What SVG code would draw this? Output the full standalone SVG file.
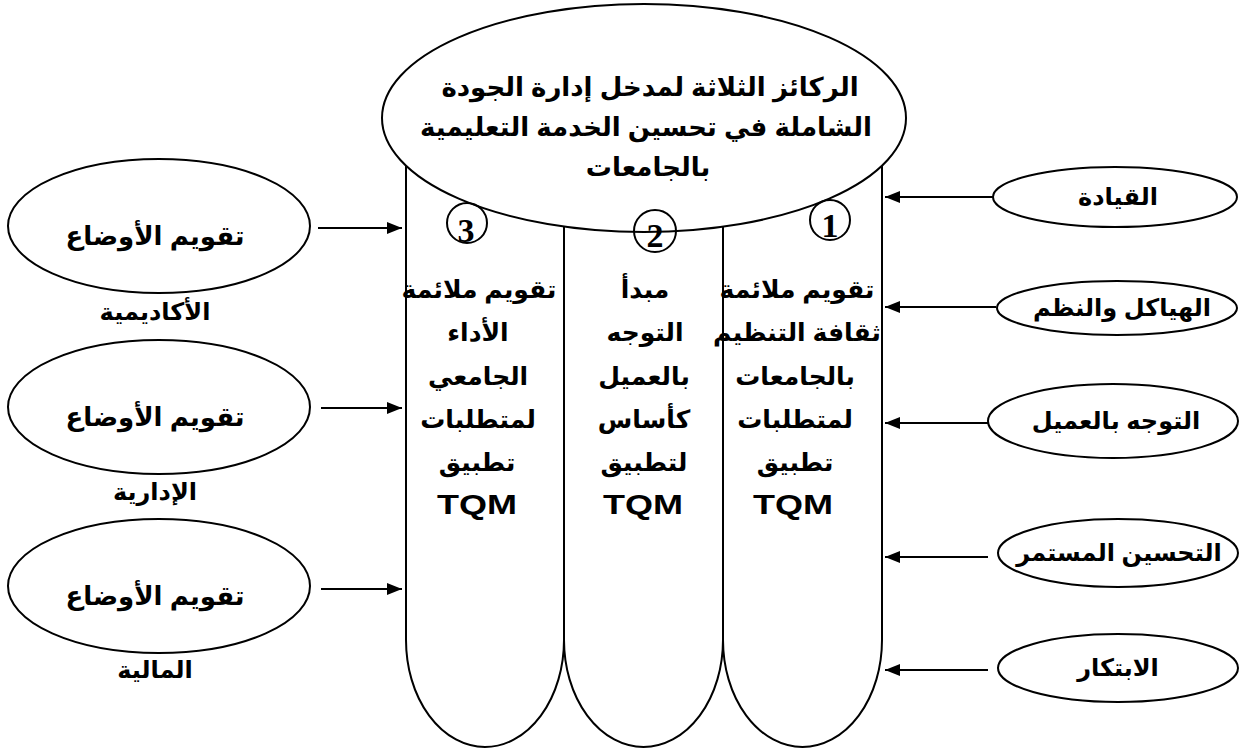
<svg xmlns="http://www.w3.org/2000/svg" width="1240" height="749" viewBox="0 0 1240 749">
<defs>
<style>
.sh{fill:#fff;stroke:#000;stroke-width:2}
.ln{fill:none;stroke:#000;stroke-width:2}
.t{font-family:"Liberation Sans","DejaVu Sans",sans-serif;font-weight:bold;fill:#000;text-anchor:middle}
.big{font-size:26px}
.mid{font-size:25px}
.lab{font-size:24px}
.rt{font-size:24px}
.tqm{font-size:28px}
.num{font-family:"Liberation Serif",serif;font-weight:bold;font-size:34px;text-anchor:middle}
</style>
<marker id="ah" markerWidth="15" markerHeight="13" refX="15" refY="6.5" orient="auto" markerUnits="userSpaceOnUse">
<path d="M0,0.5 L15,6.5 L0,12.5 Z" fill="#000"/>
</marker>
</defs>
<rect width="1240" height="749" fill="#fff"/>
<g id="pillar3">
<path class="sh" d="M406,150 L406,640 A79,107 0 0 0 564,640 L564,150"/>
</g>
<g id="pillar2">
<path class="sh" d="M564,150 L564,640 A79.5,107 0 0 0 723,640 L723,150"/>
</g>
<g id="pillar1">
<path class="sh" d="M723,150 L723,640 A79.5,107 0 0 0 882,640 L882,150"/>
</g>
<g id="title">
<ellipse class="sh" cx="644" cy="118" rx="262" ry="114"/>
<text class="t big" x="650" y="96">الركائز الثلاثة لمدخل إدارة الجودة</text>
<text class="t big" x="646" y="136">الشاملة في تحسين الخدمة التعليمية</text>
<text class="t big" x="648" y="176">بالجامعات</text>
</g>
<g id="num3"><circle class="ln" cx="467" cy="223" r="20"/><text class="num" x="466" y="242">3</text></g>
<g id="num2"><circle class="ln" cx="655" cy="231" r="21"/><text class="num" x="655" y="247">2</text></g>
<g id="num1"><circle class="ln" cx="830" cy="220" r="20"/><text class="num" x="830" y="237">1</text></g>
<g id="pillar1text" class="t mid">
<text x="797" y="298">تقويم ملائمة</text>
<text x="797" y="341">ثقافة التنظيم</text>
<text x="795" y="385">بالجامعات</text>
<text x="795" y="428">لمتطلبات</text>
<text x="795" y="471">تطبيق</text>
<text class="tqm" x="793" y="514" textLength="80" lengthAdjust="spacingAndGlyphs">TQM</text>
</g>
<g id="pillar2text" class="t mid">
<text x="645" y="298">مبدأ</text>
<text x="645" y="341">التوجه</text>
<text x="644" y="385">بالعميل</text>
<text x="644" y="428">كأساس</text>
<text x="644" y="471">لتطبيق</text>
<text class="tqm" x="643" y="514" textLength="80" lengthAdjust="spacingAndGlyphs">TQM</text>
</g>
<g id="pillar3text" class="t mid">
<text x="479" y="298">تقويم ملائمة</text>
<text x="478" y="341">الأداء</text>
<text x="478" y="385">الجامعي</text>
<text x="478" y="428">لمتطلبات</text>
<text x="477" y="471">تطبيق</text>
<text class="tqm" x="477" y="514" textLength="80" lengthAdjust="spacingAndGlyphs">TQM</text>
</g>
<g id="left1">
<ellipse class="sh" cx="159" cy="226" rx="151" ry="67"/>
<text class="t big" x="155" y="245">تقويم الأوضاع</text>
<text class="t lab" x="155" y="320">الأكاديمية</text>
</g>
<g id="left2">
<ellipse class="sh" cx="159" cy="407" rx="151" ry="67"/>
<text class="t big" x="155" y="426">تقويم الأوضاع</text>
<text class="t lab" x="155" y="500">الإدارية</text>
</g>
<g id="left3">
<ellipse class="sh" cx="159" cy="586" rx="151" ry="67"/>
<text class="t big" x="155" y="605">تقويم الأوضاع</text>
<text class="t lab" x="155" y="678">المالية</text>
</g>
<g id="right1">
<ellipse class="sh" cx="1115" cy="197" rx="122" ry="30"/>
<text class="t rt" x="1118" y="205">القيادة</text>
</g>
<g id="right2">
<ellipse class="sh" cx="1117" cy="308" rx="120" ry="27"/>
<text class="t rt" x="1122" y="316">الهياكل والنظم</text>
</g>
<g id="right3">
<ellipse class="sh" cx="1113" cy="421" rx="125" ry="37"/>
<text class="t rt" x="1116" y="429">التوجه بالعميل</text>
</g>
<g id="right4">
<ellipse class="sh" cx="1118" cy="553" rx="120" ry="34"/>
<text class="t rt" x="1119" y="561">التحسين المستمر</text>
</g>
<g id="right5">
<ellipse class="sh" cx="1118" cy="668" rx="120" ry="34"/>
<text class="t rt" x="1118" y="676">الابتكار</text>
</g>
<g id="connectors" class="ln">
<line x1="318" y1="228" x2="402" y2="228" marker-end="url(#ah)"/>
<line x1="321" y1="408" x2="402" y2="408" marker-end="url(#ah)"/>
<line x1="321" y1="589" x2="402" y2="589" marker-end="url(#ah)"/>
<line x1="993" y1="197" x2="885" y2="197" marker-end="url(#ah)"/>
<line x1="996" y1="307" x2="885" y2="307" marker-end="url(#ah)"/>
<line x1="988" y1="423" x2="885" y2="423" marker-end="url(#ah)"/>
<line x1="988" y1="557" x2="885" y2="557" marker-end="url(#ah)"/>
<line x1="988" y1="670" x2="885" y2="670" marker-end="url(#ah)"/>
</g>
</svg>
